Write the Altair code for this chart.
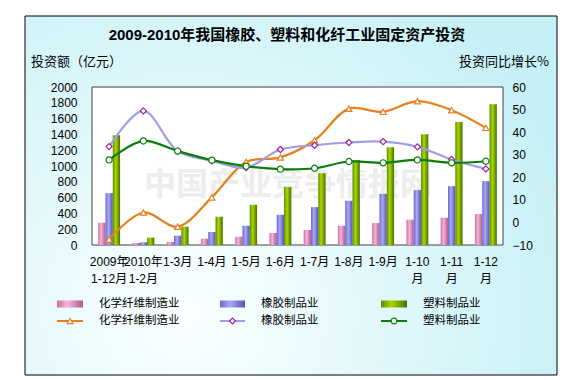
import altair as alt
import pandas as pd

categories = ["2009年|1-12月", "2010年|1-2月", "1-3月", "1-4月", "1-5月", "1-6月",
              "1-7月", "1-8月", "1-9月", "1-10|月", "1-11|月", "1-12|月"]
series = ["化学纤维制造业", "橡胶制品业", "塑料制品业"]
invest_fiber = [282, 25, 38, 80, 105, 152, 190, 244, 278, 320, 345, 392]
invest_rubber = [657, 34, 118, 164, 244, 383, 480, 560, 648, 695, 745, 808]
invest_plastic = [1389, 93, 232, 358, 509, 733, 909, 1074, 1238, 1402, 1558, 1781]
growth_fiber = [-7.5, 4.4, -1.9, 11.1, 26.8, 28.8, 36.4, 50.4, 49.0, 53.7, 49.7, 41.9]
growth_rubber = [33.6, 49.4, 31.6, 27.3, 24.3, 32.3, 34.2, 35.4, 35.8, 33.5, 27.9, 23.7]
growth_plastic = [27.7, 36.1, 31.6, 27.6, 24.9, 23.6, 24.0, 27.0, 26.4, 27.7, 26.4, 27.1]
left_ticks = list(range(0, 2001, 200))
right_ticks = list(range(-10, 61, 10))
title_text = "2009-2010年我国橡胶、塑料和化纤工业固定资产投资"
left_title = "投资额（亿元）"
right_title = "投资同比增长%"
watermark = "中国产业竞争情报网"

W, H = 411, 158
FONT = "Liberation Sans, Arial, Noto Sans CJK SC"
CJK = "Noto Sans CJK SC"

invest = [invest_fiber, invest_rubber, invest_plastic]
growth = [growth_fiber, growth_rubber, growth_plastic]
bars_df = pd.DataFrame([{"cat": c, "series": s, "value": v}
                        for s, vals in zip(series, invest) for c, v in zip(categories, vals)])
lines_df = pd.DataFrame([{"cat": c, "series": s, "growth": v}
                         for s, vals in zip(series, growth) for c, v in zip(categories, vals)])
one = pd.DataFrame({"k": [0]})

line_colors = ["#e8801e", "#9e9ee6", "#0a7d0a"]
marker_strokes = ["#e8801e", "#a020a0", "#0a7d0a"]
shapes = ["triangle-up", "diamond", "circle"]
bar_grads = [
    ["#cc70a2", "#f6b4da", "#b05a8a"],
    ["#6666cc", "#aaaaf8", "#5454b4"],
    ["#5a8a00", "#aad800", "#467000"],
]


def lin_grad(cols):
    return alt.LinearGradient(
        gradient="linear", x1=0, x2=1, y1=0, y2=0,
        stops=[alt.GradientStop(offset=0, color=cols[0]),
               alt.GradientStop(offset=0.4, color=cols[1]),
               alt.GradientStop(offset=1, color=cols[2])])


x_enc = alt.X("cat:N", sort=categories,
              scale=alt.Scale(domain=categories, paddingInner=0.36, paddingOuter=0.18),
              axis=alt.Axis(title=None, labelAngle=0, tickSize=0, domain=False, zindex=2,
                            labelExpr="split(datum.label, '|')", labelPadding=11,
                            labelBaseline="top", labelLineHeight=17, labelOverlap=False,
                            labelFontSize=12, labelFont=FONT, labelColor="#000"))

# decorations
frame = alt.Chart(one).mark_rect(
    stroke="#000", strokeWidth=1,
    fill=alt.RadialGradient(gradient="radial", x1=0.3, y1=0.72, r1=0, x2=0.3, y2=0.72, r2=0.8,
                            stops=[alt.GradientStop(offset=0, color="#fbffff"),
                                   alt.GradientStop(offset=1, color="#c4f0f6")])
).encode(x=alt.value(-67), x2=alt.value(465), y=alt.value(-71), y2=alt.value(288))

plot_bg = alt.Chart(one).mark_rect(fill="#ffffff", stroke="#404040", strokeWidth=1).encode(
    x=alt.value(0), x2=alt.value(W), y=alt.value(0), y2=alt.value(H))

wm = alt.Chart(one).mark_text(text=watermark, font=CJK, fontSize=32, fontWeight="bold",
                              color="#dcdcdc", opacity=0.5, align="center", baseline="middle"
                              ).encode(x=alt.value(196), y=alt.value(98))

texts = [
    alt.Chart(one).mark_text(text=title_text, font=FONT, fontSize=15, fontWeight="bold",
                             color="#000", align="center", baseline="middle"
                             ).encode(x=alt.value(195), y=alt.value(-52)),
    alt.Chart(one).mark_text(text=left_title, font=CJK, fontSize=13, color="#000",
                             align="left", baseline="middle"
                             ).encode(x=alt.value(-61), y=alt.value(-25)),
    alt.Chart(one).mark_text(text=right_title, font=CJK, fontSize=13, color="#000",
                             align="right", baseline="middle"
                             ).encode(x=alt.value(457), y=alt.value(-25)),
]

# bars
bar_layers = []
for s, g in zip(series, bar_grads):
    bar_layers.append(
        alt.Chart(bars_df).transform_filter(alt.datum.series == s).mark_bar(fill=lin_grad(g)).encode(
            x=x_enc,
            xOffset=alt.XOffset("series:N", scale=alt.Scale(domain=series, paddingInner=0, paddingOuter=0)),
            y=alt.Y("value:Q", scale=alt.Scale(domain=[0, 2000], nice=False),
                    axis=alt.Axis(orient="left", values=left_ticks, title=None, tickSize=0, zindex=2,
                                  format="d", domain=False, grid=False, labelPadding=15,
                                  labelFontSize=12, labelFont=FONT, labelColor="#000")),
        ))
bars = alt.layer(*bar_layers)

y2 = alt.Y("growth:Q", scale=alt.Scale(domain=[-10, 60], nice=False),
           axis=alt.Axis(orient="right", values=right_ticks, title=None, tickSize=0, zindex=2,
                         format="d", domain=False, grid=False, labelPadding=9, labelFontSize=12,
                         labelFont=FONT, labelColor="#000"))
lines = alt.Chart(lines_df).mark_line(interpolate="catmull-rom", strokeWidth=2.2).encode(
    x=x_enc, y=y2,
    color=alt.Color("series:N", scale=alt.Scale(domain=series, range=line_colors), legend=None),
    detail="series:N")
points = alt.Chart(lines_df).mark_point(filled=False, fill="#ffffff", fillOpacity=1, size=38,
                                        strokeWidth=1.2, opacity=1).encode(
    x=x_enc, y=y2,
    stroke=alt.Stroke("series:N", scale=alt.Scale(domain=series, range=marker_strokes), legend=None),
    shape=alt.Shape("series:N", scale=alt.Scale(domain=series, range=shapes), legend=None))
line_layer = alt.layer(lines, points)

# manual legend
leg = []
sym_x = [(-35, -9), (128, 153), (289, 315)]
txt_x = [7, 169, 331]
row1, row2 = 217, 234
for i, s in enumerate(series):
    x0, x1 = sym_x[i]
    leg.append(alt.Chart(one).mark_rect(fill=lin_grad(bar_grads[i])).encode(
        x=alt.value(x0), x2=alt.value(x1), y=alt.value(row1 - 3.5), y2=alt.value(row1 + 3.5)))
    leg.append(alt.Chart(one).mark_rule(stroke=line_colors[i], strokeWidth=2).encode(
        x=alt.value(x0), x2=alt.value(x1), y=alt.value(row2)))
    leg.append(alt.Chart(one).mark_point(shape=shapes[i], filled=False, fill="#ffffff", fillOpacity=1,
                                         stroke=marker_strokes[i], size=34, strokeWidth=1.2, opacity=1
                                         ).encode(x=alt.value((x0 + x1) / 2), y=alt.value(row2)))
    for r in (row1, row2):
        leg.append(alt.Chart(one).mark_text(text=s, font=CJK, fontSize=11.5, color="#000",
                                            align="left", baseline="middle"
                                            ).encode(x=alt.value(txt_x[i]), y=alt.value(r)))

deco_back = alt.layer(frame, plot_bg, wm, *texts, *leg)

chart = alt.layer(deco_back, bars, line_layer).resolve_scale(
    y="independent"
).properties(
    width=W, height=H,
    autosize=alt.AutoSizeParams(type="none"),
    padding={"left": 84, "top": 79, "right": 61, "bottom": 131},
).configure_view(stroke=None, fill=None).configure(background="#ffffff")

chart.save("out.html", embed_options={"renderer": "svg", "actions": False})
